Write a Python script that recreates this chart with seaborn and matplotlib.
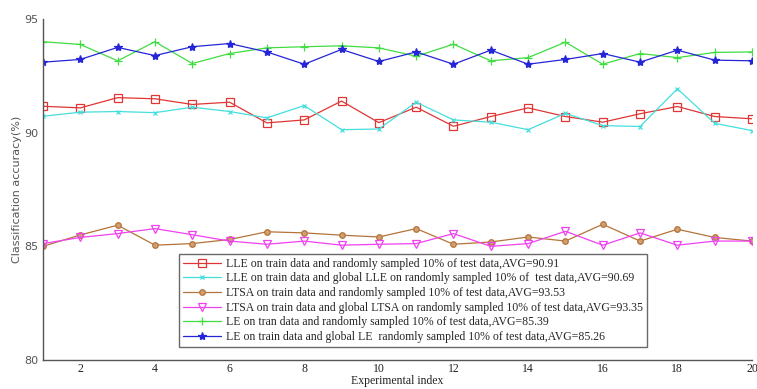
import matplotlib
matplotlib.use("Agg")
import matplotlib.pyplot as plt
import seaborn as sns
import pandas as pd

idx = list(range(1, 21))

lle_rand = [91.16, 91.09, 91.54, 91.49, 91.24, 91.34, 90.43, 90.56, 91.39, 90.44,
            91.12, 90.28, 90.71, 91.09, 90.71, 90.46, 90.83, 91.15, 90.71, 90.61]
lle_global = [90.72, 90.90, 90.93, 90.88, 91.12, 90.93, 90.65, 91.19, 90.13, 90.16,
              91.34, 90.56, 90.46, 90.13, 90.85, 90.31, 90.27, 91.93, 90.41, 90.09]
ltsa_rand = [85.00, 85.50, 85.93, 85.05, 85.12, 85.30, 85.64, 85.59, 85.49, 85.41,
             85.78, 85.09, 85.19, 85.41, 85.23, 85.97, 85.23, 85.75, 85.39, 85.23]
ltsa_global = [85.12, 85.39, 85.56, 85.78, 85.51, 85.23, 85.09, 85.23, 85.05, 85.09,
               85.12, 85.56, 85.00, 85.12, 85.66, 85.05, 85.59, 85.05, 85.23, 85.23]
le_rand = [94.00, 93.88, 93.16, 94.00, 93.04, 93.48, 93.73, 93.78, 93.82, 93.73,
           93.36, 93.89, 93.16, 93.30, 93.98, 93.01, 93.48, 93.30, 93.53, 93.55]
le_global = [93.10, 93.22, 93.75, 93.39, 93.78, 93.92, 93.55, 93.01, 93.66, 93.13,
             93.55, 93.01, 93.63, 93.01, 93.22, 93.48, 93.10, 93.63, 93.19, 93.16]

labels = [
    "LLE on train data and randomly sampled 10% of test data,AVG=90.91",
    "LLE on train data and global LLE on randomly sampled 10% of  test data,AVG=90.69",
    "LTSA on train data and randomly sampled 10% of test data,AVG=93.53",
    "LTSA on train data and global LTSA on randomly sampled 10% of test data,AVG=93.35",
    "LE on tran data and randomly sampled 10% of test data,AVG=85.39",
    "LE on train data and global LE  randomly sampled 10% of test data,AVG=85.26",
]
series = [lle_rand, lle_global, ltsa_rand, ltsa_global, le_rand, le_global]
colors = ["#e03535", "#45dede", "#b5733a", "#f040f0", "#40dd40", "#2525d8"]
markers = ["s", "x", "o", "v", "+", "*"]
mfaces = ["none", "#45dede", "#d0a070", "none", "#40dd40", "#2525d8"]
msizes = [6, 3.5, 4, 6, 6, 6]

x_ticks = [2, 4, 6, 8, 10, 12, 14, 16, 18, 20]
y_ticks = [80, 85, 90, 95]

sns.set_style("white")
fig = plt.figure(figsize=(7.57, 3.89), dpi=100)
ax = fig.add_axes([0.0568, 0.0746, 0.9366, 0.8766])

for vals, lab, c, m, fc, ms in zip(series, labels, colors, markers, mfaces, msizes):
    df = pd.DataFrame({"idx": idx, "val": vals})
    sns.lineplot(data=df, x="idx", y="val", ax=ax, color=c, marker=m,
                 markerfacecolor=fc, markeredgecolor=c, markersize=ms,
                 markeredgewidth=0.9, linewidth=0.9, label=lab)

ax.set_xlim(1, 20)
ax.set_ylim(80, 95)
ax.set_xticks(x_ticks)
ax.set_yticks(y_ticks)
for s in ["top", "right"]:
    ax.spines[s].set_visible(False)
for s in ["left", "bottom"]:
    ax.spines[s].set_color("#555555")
    ax.spines[s].set_linewidth(1.0)
ax.tick_params(axis="both", direction="in", length=5, width=1, color="#333333")
ax.tick_params(axis="x", pad=2)
ax.tick_params(axis="y", pad=3)
for t in ax.get_xticklabels():
    t.set_fontfamily("Liberation Serif")
    t.set_fontsize(8.5)
    t.set_color("#222222")
for t in ax.get_yticklabels():
    t.set_fontfamily("DejaVu Sans")
    t.set_fontsize(8)
    t.set_color("#555555")

ax.set_xlabel("Experimental index", fontfamily="Liberation Serif", fontsize=8.5,
              color="#222222", labelpad=0)
ax.set_ylabel("Classification accuracy(%)", fontfamily="DejaVu Sans", fontsize=8,
              color="#555555", labelpad=2)

leg = ax.legend(loc="lower left", bbox_to_anchor=(0.2365, 0.108),
                bbox_transform=fig.transFigure, prop={"family": "Liberation Serif", "size": 8.5},
                frameon=True, fancybox=False, handlelength=3.2, handletextpad=0.4,
                labelspacing=0.22, borderpad=0.35, borderaxespad=0)
leg.get_frame().set_edgecolor("#444444")
leg.get_frame().set_linewidth(1.0)

fig.savefig("out.png", dpi=100)
